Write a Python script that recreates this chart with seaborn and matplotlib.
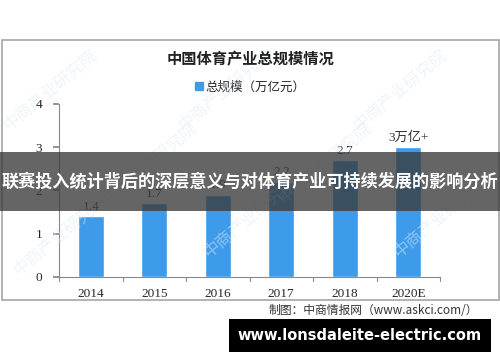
import matplotlib
matplotlib.use("Agg")
import matplotlib.pyplot as plt
import seaborn as sns
import pandas as pd
from matplotlib.patches import Rectangle, Patch

# data
years = ["2014", "2015", "2016", "2017", "2018", "2020E"]
scale = [1.4, 1.7, 1.9, 2.2, 2.7, 3.0]
value_labels = ["1.4", "1.7", "1.9", "2.2", "2.7", "3万亿+"]
y_ticks = [0, 1, 2, 3, 4]

title = "中国体育产业总规模情况"
legend_label = "总规模（万亿元）"
source = "制图：中商情报网（www.askci.com/）"
banner = "联赛投入统计背后的深层意义与对体育产业可持续发展的影响分析"
site = "www.lonsdaleite-electric.com"

sns.set_theme(style="white")
plt.rcParams["font.family"] = ["Noto Sans CJK SC", "DejaVu Sans"]

bar_color = "#3d9be9"
df = pd.DataFrame({"year": years, "scale": scale})

fig = plt.figure(figsize=(5, 3.62), dpi=100)
ax = fig.add_axes([0.118, 0.235, 0.762, 0.478])

# outer chart frame
fig.patches.append(Rectangle((0.003, 0.17), 0.994, 0.72, transform=fig.transFigure,
                             fill=False, edgecolor="#a6a6a6", lw=1.2))

# faint watermarks
for wx, wy in [(0.1, 0.75), (0.45, 0.75), (0.8, 0.75), (0.12, 0.35), (0.5, 0.4), (0.88, 0.4),
               (0.3, 0.55), (0.65, 0.55)]:
    fig.text(wx, wy, "中商产业研究院", rotation=40, fontsize=12, color="#dcebf7",
             alpha=0.5, ha="center", va="center", zorder=0)

sns.barplot(data=df, x="year", y="scale", color=bar_color, width=0.41,
            saturation=1, ax=ax, zorder=3)

ax.set_ylim(0, 4)
ax.set_xlim(-0.5, len(years) - 0.5)
ax.set_yticks(y_ticks)
ax.set_yticklabels([str(t) for t in y_ticks], family="Liberation Serif", fontsize=9.5)
ax.set_xticks(range(len(years)))
ax.set_xticklabels(years, family="Liberation Serif", fontsize=9.5)
ax.tick_params(axis="x", length=0, pad=8)
ax.tick_params(axis="y", length=4, color="#888888", left=True, pad=8)
ax.set_xlabel("")
ax.set_ylabel("")
ax.patch.set_alpha(0)

for side in ["top", "right"]:
    ax.spines[side].set_visible(False)
for side in ["left", "bottom"]:
    ax.spines[side].set_color("#888888")
    ax.spines[side].set_linewidth(0.8)

# category boundary ticks on x axis
for i in range(len(years) + 1):
    ax.plot([i - 0.5, i - 0.5], [0, -0.1], color="#888888", lw=0.8,
            clip_on=False, zorder=4)

for i, (v, lab) in enumerate(zip(scale, value_labels)):
    ax.text(i, v + 0.08, lab, ha="center", va="bottom", fontsize=9.5,
            family=["Liberation Serif", "Noto Sans CJK SC"], color="#333333")

fig.text(0.5, 0.837, title, ha="center", va="center", fontsize=11,
         fontweight="bold", color="#222222")
ax.legend(handles=[Patch(color=bar_color, label=legend_label)], loc="center",
          bbox_to_anchor=(0.5, 0.76), bbox_transform=fig.transFigure, frameon=False,
          fontsize=9, handlelength=0.6, handleheight=0.6, handletextpad=0.2)

fig.text(0.956, 0.143, source, ha="right", va="center", fontsize=8.5, color="#333333")

# overlay banner
fig.patches.append(Rectangle((0, 0.417), 1, 0.163, transform=fig.transFigure,
                             facecolor="#3a3a3a", alpha=0.78, edgecolor="none", zorder=5))
fig.text(0.5, 0.498, banner, ha="center", va="center", fontsize=12.3,
         fontweight="bold", color="white", zorder=6)

# site box
fig.patches.append(Rectangle((0.458, 0.028), 0.524, 0.091, transform=fig.transFigure,
                             facecolor="black", edgecolor="none", zorder=5))
fig.text(0.72, 0.073, site, ha="center", va="center", fontsize=10.5,
         fontweight="bold", color="white", family="DejaVu Sans", zorder=6)

fig.savefig("out.png", dpi=100)
